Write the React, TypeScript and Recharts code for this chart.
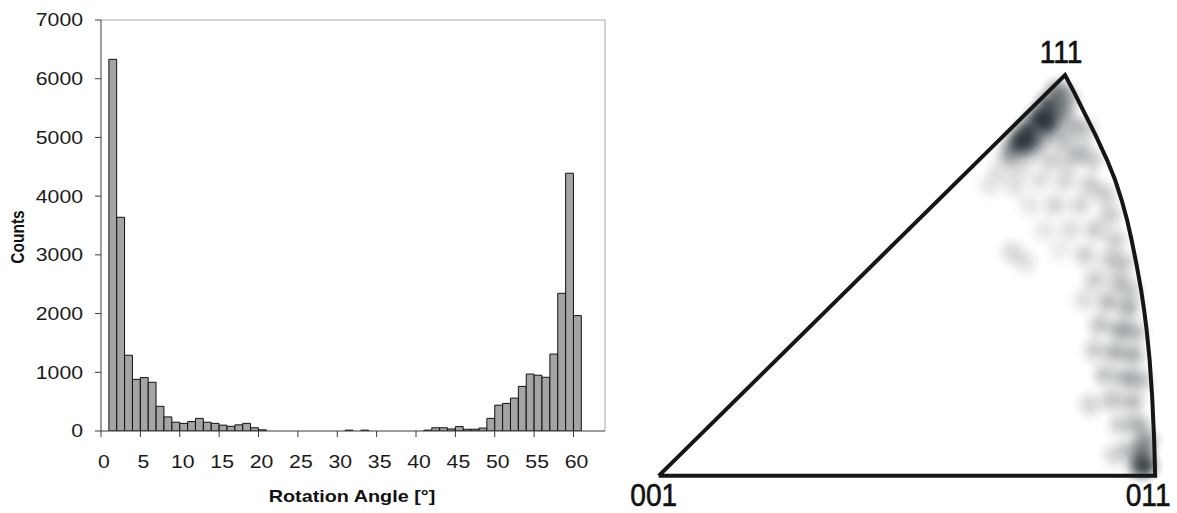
import React from 'react'
import { BarChart, Bar, XAxis, YAxis, ReferenceLine, ScatterChart, Scatter } from 'recharts'

// histogram of rotation angles (bin k covers k..k+1 degrees)
const angleBins = [
  1, 2, 3, 4, 5, 6, 7, 8, 9, 10, 11, 12, 13, 14, 15, 16, 17, 18, 19, 20,
  21, 22, 23, 24, 25, 26, 27, 28, 29, 30, 31, 32, 33, 34, 35, 36, 37, 38, 39, 40,
  41, 42, 43, 44, 45, 46, 47, 48, 49, 50, 51, 52, 53, 54, 55, 56, 57, 58, 59, 60,
]
const counts = [
  6330, 3640, 1290, 880, 910, 830, 420, 240, 150, 130, 160, 215, 150, 130, 100, 80, 105, 130, 55, 20,
  0, 0, 0, 0, 0, 0, 0, 0, 0, 0, 15, 0, 15, 0, 0, 0, 0, 0, 0, 0,
  15, 55, 55, 35, 75, 30, 30, 50, 215, 440, 470, 560, 760, 970, 950, 915, 1310, 2345, 4390, 1965,
]
const xTicks = [0, 5, 10, 15, 20, 25, 30, 35, 40, 45, 50, 55, 60]
const yTicks = [0, 1000, 2000, 3000, 4000, 5000, 6000, 7000]

// inverse pole figure, unit triangle coords (001 at 0,0 and 011 at 1,0)
const poleCorners = [
  { name: '001', x: 0, y: 0 },
  { name: '111', x: 0.8185, y: 0.8085 },
  { name: '011', x: 1, y: 0 },
]
const arcPoints = [
  [0.8367, 0.7742], [0.8548, 0.7379], [0.88, 0.6875], [0.9032, 0.6371], [0.9194, 0.5968],
  [0.9325, 0.5565], [0.9435, 0.5161], [0.9526, 0.4758], [0.9627, 0.4254], [0.9718, 0.375],
  [0.9778, 0.3347], [0.9829, 0.2944], [0.9889, 0.2339], [0.994, 0.1593], [0.998, 0.0726],
]
// [x, y, intensity]
const density = [
  [0.8044, 0.7742, 0.75], [0.7843, 0.748, 1], [0.7641, 0.7218, 1], [0.744, 0.6976, 1],
  [0.7238, 0.6734, 0.95], [0.7077, 0.6512, 0.6], [0.8085, 0.7339, 0.7], [0.7883, 0.7077, 0.75],
  [0.7681, 0.6815, 0.65], [0.748, 0.6573, 0.5], [0.8246, 0.7581, 0.45], [0.8327, 0.7077, 0.4],
  [0.8125, 0.6774, 0.4], [0.8589, 0.6976, 0.3], [0.8488, 0.6573, 0.35], [0.873, 0.6371, 0.3],
  [0.8286, 0.6371, 0.3], [0.7883, 0.6371, 0.3], [0.7278, 0.627, 0.25], [0.6875, 0.6169, 0.2],
  [0.7782, 0.7177, 1], [0.7379, 0.6774, 1],
  [0.6673, 0.5867, 0.15], [0.7177, 0.5867, 0.2], [0.7681, 0.5968, 0.2], [0.8185, 0.5968, 0.25],
  [0.869, 0.5867, 0.3], [0.8992, 0.5665, 0.3], [0.748, 0.5464, 0.15], [0.7984, 0.5464, 0.25],
  [0.8488, 0.5464, 0.25], [0.9093, 0.5262, 0.3], [0.7782, 0.496, 0.15], [0.8286, 0.496, 0.2],
  [0.879, 0.496, 0.3], [0.9194, 0.4758, 0.3], [0.7117, 0.4516, 0.22], [0.7379, 0.4315, 0.18],
  [0.8085, 0.4556, 0.12], [0.8589, 0.4456, 0.28], [0.9093, 0.4355, 0.3], [0.9375, 0.4294, 0.3],
  [0.879, 0.3952, 0.3], [0.9254, 0.3911, 0.35], [0.9496, 0.375, 0.3], [0.8589, 0.3548, 0.2],
  [0.9052, 0.3508, 0.4], [0.9456, 0.3387, 0.45], [0.8891, 0.3044, 0.35], [0.9294, 0.2944, 0.5],
  [0.9597, 0.2903, 0.4], [0.879, 0.254, 0.3], [0.9194, 0.25, 0.45], [0.9556, 0.244, 0.45],
  [0.8992, 0.2036, 0.35], [0.9395, 0.1976, 0.45], [0.9698, 0.1935, 0.4], [0.869, 0.1431, 0.25],
  [0.9133, 0.1532, 0.35], [0.9536, 0.1492, 0.4], [0.9294, 0.1028, 0.3], [0.9657, 0.1028, 0.45],
  [0.9194, 0.0423, 0.25], [0.9496, 0.0524, 0.35], [0.9758, 0.0484, 0.65], [0.9798, 0.0202, 1],
  [0.9657, 0.0202, 0.6], [0.9819, 0.0726, 0.5],
]

const histData = angleBins.map((b, i) => ({ angle: b + 0.5, count: counts[i] }))
const outlineData = [
  poleCorners[0],
  poleCorners[1],
  ...arcPoints.map(([x, y]) => ({ x, y })),
  poleCorners[2],
  poleCorners[0],
]
const densityData = density.map(([x, y, d]) => ({ x, y, d }))

const FONT = 'Liberation Sans, Arial, sans-serif'

const labelOffsets: Record<string, [number, number]> = {
  '001': [-5, 30],
  '011': [-7, 30],
  '111': [-4, -12],
}

function XTick(props: any) {
  const { x, y, payload } = props
  return (
    <g transform={`translate(${x + 3},${y}) scale(1.18,1)`}>
      <text x={0} y={0} dy="0.71em" textAnchor="middle" fontSize={18} fontFamily={FONT} fill="#1a1a1a">
        {payload.value}
      </text>
    </g>
  )
}

function YTick(props: any) {
  const { x, y, payload } = props
  return (
    <g transform={`translate(${x},${y}) scale(1.18,1)`}>
      <text x={0} y={0} dy="0.36em" textAnchor="end" fontSize={18} fontFamily={FONT} fill="#1a1a1a">
        {payload.value}
      </text>
    </g>
  )
}

function Blob(props: any) {
  const { cx, cy, payload } = props
  return <circle cx={cx} cy={cy} r={19} fill="url(#ipfBlob)" fillOpacity={payload.d * 0.72} />
}

function CornerLabel(props: any) {
  const { cx, cy, payload } = props
  const [dx, dy] = labelOffsets[payload.name]
  return (
    <g transform={`translate(${cx + dx},${cy + dy}) scale(0.88,1)`}>
      <text x={0} y={0} textAnchor="middle" fontSize={32} fontFamily={FONT} fill="#111" stroke="#111" strokeWidth={0.6}>
        {payload.name}
      </text>
    </g>
  )
}

export default function App() {
  return (
    <div style={{ position: 'absolute', left: 0, top: 0, width: 1177, height: 513, background: '#fff', overflow: 'hidden' }}>
      <div style={{ position: 'absolute', left: 0, top: 0 }}>
        <BarChart width={620} height={513} data={histData} margin={{ top: 20, right: 15, bottom: 0, left: 0 }}>
          <XAxis
            type="number"
            dataKey="angle"
            domain={[0, 64]}
            ticks={xTicks}
            allowDataOverflow
            height={82}
            tickSize={6}
            tickMargin={18}
            axisLine={{ stroke: '#3a3a3a' }}
            tickLine={{ stroke: '#3a3a3a' }}
            tick={<XTick />}
            label={(p: any) => {
              const vb = p.viewBox
              return (
                <g transform={`translate(${vb.x + vb.width / 2 - 1},${vb.y + 71}) scale(1.2,1)`}>
                  <text textAnchor="middle" fontSize={16.5} fontWeight="bold" fontFamily={FONT} fill="#111">
                    Rotation Angle [°]
                  </text>
                </g>
              )
            }}
          />
          <YAxis
            type="number"
            domain={[0, 7000]}
            ticks={yTicks}
            allowDataOverflow
            width={101}
            tickSize={6}
            tickMargin={12}
            axisLine={{ stroke: '#3a3a3a' }}
            tickLine={{ stroke: '#3a3a3a' }}
            tick={<YTick />}
            label={() => (
              <g transform="translate(24,237) scale(1.2,1) rotate(-90)">
                <text textAnchor="middle" fontSize={15.5} fontWeight="bold" fontFamily={FONT} fill="#111">
                  Counts
                </text>
              </g>
            )}
          />
          <ReferenceLine y={7000} stroke="#a8a8a8" strokeWidth={1} />
          <ReferenceLine x={64} stroke="#a8a8a8" strokeWidth={1} />
          <Bar dataKey="count" fill="#a4a4a4" stroke="#111" strokeWidth={1} barSize={7.8} isAnimationActive={false} />
        </BarChart>
      </div>
      <div style={{ position: 'absolute', left: 619, top: 5 }}>
        <ScatterChart width={556} height={508} margin={{ top: 0, right: 0, bottom: 0, left: 0 }}>
          <defs>
            <radialGradient id="ipfBlob">
              <stop offset="0%" stopColor="#1b252b" stopOpacity={1} />
              <stop offset="25%" stopColor="#1b252b" stopOpacity={0.85} />
              <stop offset="50%" stopColor="#1b252b" stopOpacity={0.5} />
              <stop offset="75%" stopColor="#1b252b" stopOpacity={0.17} />
              <stop offset="100%" stopColor="#1b252b" stopOpacity={0} />
            </radialGradient>
          </defs>
          <XAxis type="number" dataKey="x" domain={[-0.08, 1.04]} hide allowDataOverflow />
          <YAxis type="number" dataKey="y" domain={[-0.075, 0.95]} hide allowDataOverflow />
          <Scatter data={densityData} shape={<Blob />} isAnimationActive={false} />
          <Scatter
            data={outlineData}
            line={{ stroke: '#161616', strokeWidth: 4, strokeLinejoin: 'miter' }}
            shape={() => <g />}
            isAnimationActive={false}
          />
          <Scatter data={poleCorners} shape={<CornerLabel />} isAnimationActive={false} />
        </ScatterChart>
      </div>
    </div>
  )
}
